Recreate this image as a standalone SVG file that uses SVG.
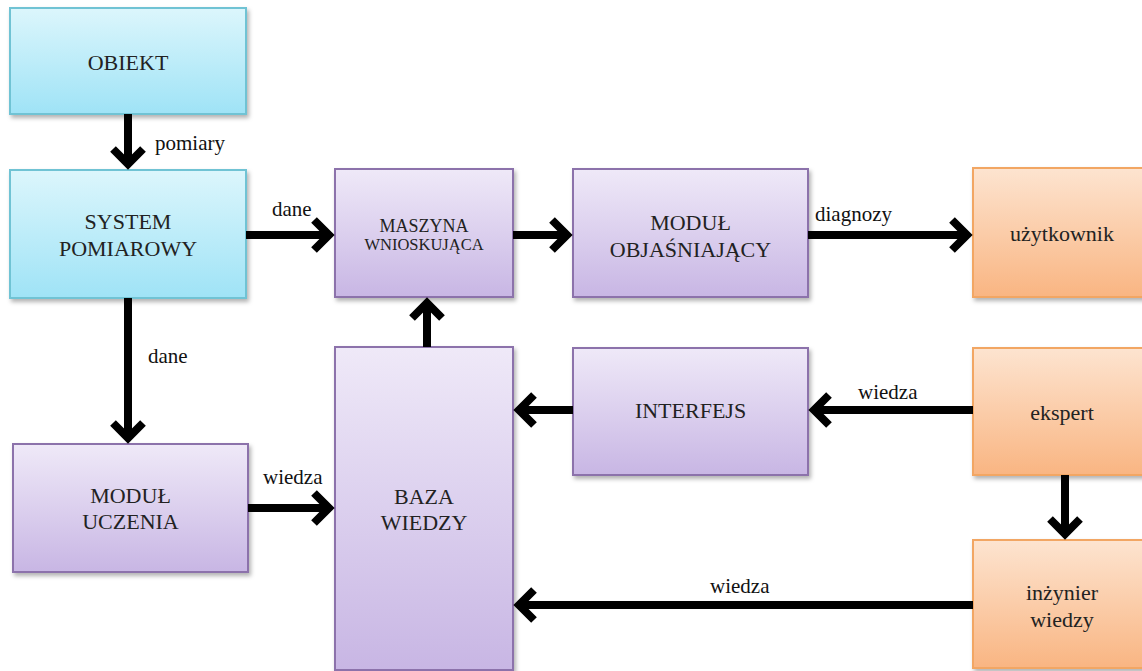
<svg xmlns="http://www.w3.org/2000/svg" width="1142" height="671" viewBox="0 0 1142 671">
<defs>
<linearGradient id="gBlue" x1="0" y1="0" x2="0" y2="1"><stop offset="0" stop-color="#dcf6fc"/><stop offset="1" stop-color="#9fe3f6"/></linearGradient>
<linearGradient id="gPurple" x1="0" y1="0" x2="0" y2="1"><stop offset="0" stop-color="#efe9f8"/><stop offset="1" stop-color="#c8b6e4"/></linearGradient>
<linearGradient id="gOrange" x1="0" y1="0" x2="0" y2="1"><stop offset="0" stop-color="#fde4d0"/><stop offset="1" stop-color="#f9b582"/></linearGradient>
<filter id="sh" x="-10%" y="-10%" width="130%" height="130%"><feDropShadow dx="2" dy="3" stdDeviation="2" flood-color="#000" flood-opacity="0.3"/></filter>
<marker id="ah" markerUnits="userSpaceOnUse" viewBox="-24 -24 32 48" markerWidth="32" markerHeight="48" refX="0" refY="0" orient="auto" overflow="visible">
<path d="M-15,-15 L0,0 L-15,15" fill="none" stroke="#000" stroke-width="8" stroke-linejoin="miter"/>
</marker>
<style>
.blue{fill:url(#gBlue);stroke:#6fc3d4;stroke-width:2;filter:url(#sh)}
.purple{fill:url(#gPurple);stroke:#8c72ab;stroke-width:2;filter:url(#sh)}
.orange{fill:url(#gOrange);stroke:#f2a664;stroke-width:2;filter:url(#sh)}
text{font-family:"Liberation Serif","DejaVu Serif","Times New Roman",serif;font-size:22px;fill:#222;text-anchor:middle}
.lbl{text-anchor:start;fill:#111;font-size:21px}
.conn line{stroke:#000;stroke-width:8;marker-end:url(#ah)}
</style>
</defs>
<g id="obiekt"><rect class="blue" x="10" y="8" width="236" height="106"/><text x="128" y="70">OBIEKT</text></g>
<g id="system"><rect class="blue" x="10" y="170" width="236" height="128"/><text x="128" y="229">SYSTEM</text><text x="128" y="256">POMIAROWY</text></g>
<g id="maszyna"><rect class="purple" x="335" y="169" width="178" height="128"/><text x="424" y="232" style="font-size:18px">MASZYNA</text><text x="424" y="250" style="font-size:16.5px">WNIOSKUJĄCA</text></g>
<g id="objasniajacy"><rect class="purple" x="573" y="169" width="235" height="128"/><text x="690.5" y="230">MODUŁ</text><text x="690.5" y="257">OBJAŚNIAJĄCY</text></g>
<g id="uzytkownik"><rect class="orange" x="973" y="168" width="182" height="129"/><text x="1062" y="241">użytkownik</text></g>
<g id="interfejs"><rect class="purple" x="573" y="348" width="235" height="127"/><text x="690.5" y="418">INTERFEJS</text></g>
<g id="ekspert"><rect class="orange" x="973" y="348" width="182" height="127"/><text x="1062" y="420">ekspert</text></g>
<g id="baza"><rect class="purple" x="335" y="347" width="178" height="323"/><text x="424" y="504">BAZA</text><text x="424" y="530">WIEDZY</text></g>
<g id="uczenia"><rect class="purple" x="13" y="444" width="235" height="128"/><text x="130.5" y="503">MODUŁ</text><text x="130.5" y="529">UCZENIA</text></g>
<g id="inzynier"><rect class="orange" x="973" y="540" width="182" height="128"/><text x="1062" y="600">inżynier</text><text x="1062" y="627">wiedzy</text></g>
<g id="connectors" class="conn">
<line x1="128" y1="114" x2="128" y2="164"/>
<line x1="246" y1="235" x2="329" y2="235"/>
<line x1="513" y1="235" x2="567" y2="235"/>
<line x1="808" y1="235" x2="967" y2="235"/>
<line x1="128" y1="298" x2="128" y2="438"/>
<line x1="427" y1="347" x2="427" y2="303"/>
<line x1="573" y1="410" x2="519" y2="410"/>
<line x1="973" y1="410" x2="814" y2="410"/>
<line x1="1065" y1="475" x2="1065" y2="534"/>
<line x1="248" y1="508" x2="329" y2="508"/>
<line x1="973" y1="605" x2="519" y2="605"/>
</g>
<g id="labels">
<text class="lbl" x="155" y="150">pomiary</text>
<text class="lbl" x="272" y="216">dane</text>
<text class="lbl" x="815" y="221">diagnozy</text>
<text class="lbl" x="148" y="363">dane</text>
<text class="lbl" x="858" y="399">wiedza</text>
<text class="lbl" x="263" y="484">wiedza</text>
<text class="lbl" x="710" y="593">wiedza</text>
</g>
</svg>
